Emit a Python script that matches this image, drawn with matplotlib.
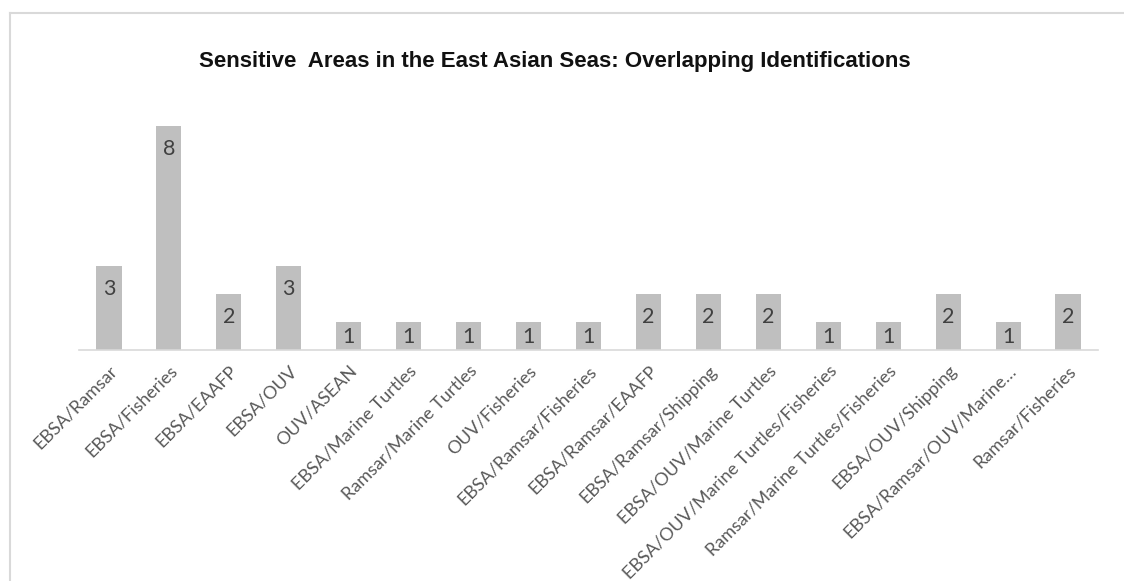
import numpy as np
import matplotlib.pyplot as plt
from matplotlib.lines import Line2D

# data
categories = ['EBSA/Ramsar', 'EBSA/Fisheries', 'EBSA/EAAFP', 'EBSA/OUV', 'OUV/ASEAN',
              'EBSA/Marine Turtles', 'Ramsar/Marine Turtles', 'OUV/Fisheries',
              'EBSA/Ramsar/Fisheries', 'EBSA/Ramsar/EAAFP', 'EBSA/Ramsar/Shipping',
              'EBSA/OUV/Marine Turtles', 'EBSA/OUV/Marine Turtles/Fisheries',
              'Ramsar/Marine Turtles/Fisheries', 'EBSA/OUV/Shipping',
              'EBSA/Ramsar/OUV/Marine\u2026', 'Ramsar/Fisheries']
counts = [3, 8, 2, 3, 1, 1, 1, 1, 1, 2, 2, 2, 1, 1, 2, 1, 2]
title = 'Sensitive  Areas in the East Asian Seas: Overlapping Identifications'

W, H = 1124, 581
fig = plt.figure(figsize=(W / 100, H / 100), dpi=100)
ax = fig.add_axes([79 / W, 1 - 350 / H, (1098 - 79) / W, (350 - 98) / H])

x = np.arange(len(categories))
ax.bar(x, counts, width=0.42, color='#BFBFBF', zorder=2)
ax.set_xlim(-0.5, len(categories) - 0.5)
ax.set_ylim(0, 9)

# data labels inside end of bars
for xi, v in zip(x, counts):
    ax.text(xi, max(v - 0.82, 0.45), str(v), ha='center', va='center',
            fontsize=15.5, color='#404040', family=['Lato', 'DejaVu Sans'], zorder=3)

ax.set_xticks(x)
ax.set_xticklabels(categories, rotation=45, ha='right', va='top',
                   rotation_mode='anchor', fontsize=13, color='#595959',
                   family=['Lato', 'DejaVu Sans'])
ax.tick_params(axis='x', length=0, pad=9)
ax.set_yticks([])
for s in ['top', 'right', 'left']:
    ax.spines[s].set_visible(False)
ax.spines['bottom'].set_color('#D9D9D9')
ax.spines['bottom'].set_linewidth(1.2)

fig.text(555 / W, 1 - 62 / H, title, ha='center', va='center', fontsize=16,
         fontweight='bold', color='#111111',
         family=['Liberation Sans Narrow', 'Liberation Sans', 'DejaVu Sans'])

# chart border (only left and top visible in the crop)
fig.add_artist(Line2D([9.5 / W, 9.5 / W], [0, 1 - 13 / H], color='#D9D9D9', lw=1.5))
fig.add_artist(Line2D([9.5 / W, 1], [1 - 13 / H, 1 - 13 / H], color='#D9D9D9', lw=1.5))

fig.savefig('out.png', dpi=100)
